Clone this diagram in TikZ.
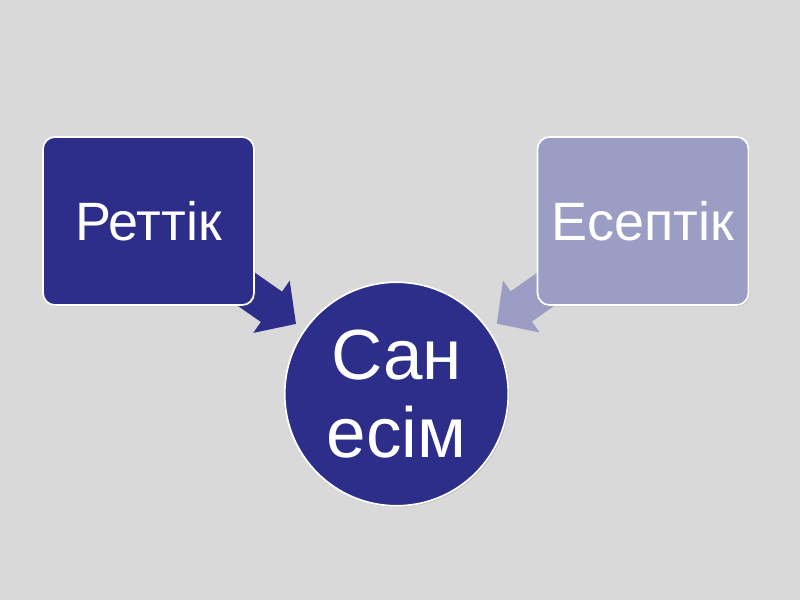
\documentclass[tikz,border=0pt]{standalone}
\usepackage{fontspec}
\setmainfont{Liberation Sans}
\usetikzlibrary{arrows.meta,backgrounds,shadows}
\definecolor{navy}{HTML}{2D2E8A}
\definecolor{lilac}{HTML}{9C9DC4}
\definecolor{paper}{HTML}{D9D9D9}

\begin{document}
\begin{tikzpicture}[x=0.025cm, y=-0.025cm, box/.style={draw=white, line width=1.2pt, rounded corners=8.5pt, minimum width=150pt, minimum height=119.5pt, text=white, font=\fontsize{38.4pt}{44pt}\selectfont, drop shadow={opacity=0.25, shadow xshift=1pt, shadow yshift=-1pt}}, hub/.style={circle, draw=white, line width=1.2pt, fill=navy, minimum size=159pt, text=white, align=center, font=\fontsize{50.5pt}{55.5pt}\selectfont, drop shadow={opacity=0.25, shadow xshift=1pt, shadow yshift=-1pt}}, arr/.style={line width=26.3pt, -{Triangle[length=21.3pt, width=44pt]}, shorten >=7pt}]
\useasboundingbox (0,0) rectangle (800,600);
\node[box, fill=navy] (ret) at (148.5,221) {Реттік};
\node[box, fill=lilac] (esep) at (643,221) {Есептік};
\node[hub] (san) at (396.5,394) {Сан\\есім};
\begin{scope}[on background layer]
\fill[paper] (0,0) rectangle (800,600);
\draw[arr, navy] (ret.center) -- (san);
\draw[arr, lilac] (esep.center) -- (san);
\end{scope}
\end{tikzpicture}
\end{document}
